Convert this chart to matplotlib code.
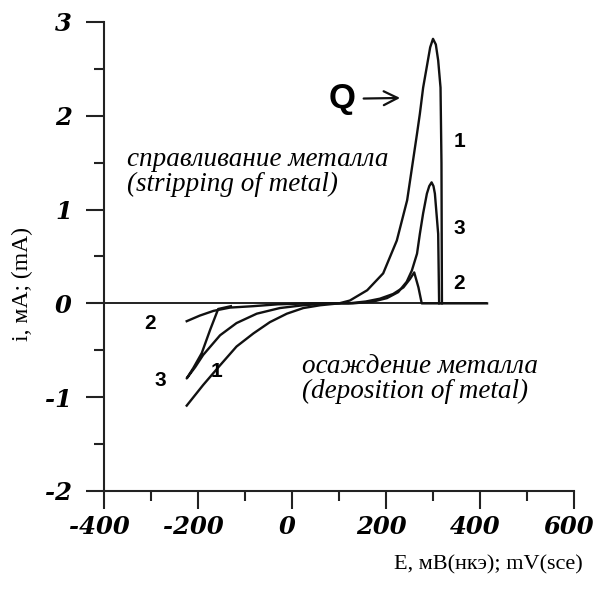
"""
Stripping voltammograms: current vs potential for three runs (1, 2, 3).
"""

import numpy as np
import matplotlib
matplotlib.use("Agg")
import matplotlib.pyplot as plt
from matplotlib.transforms import ScaledTranslation

plt.rcParams["axes.unicode_minus"] = False

# curve 1 (largest peak)
e1 = [-224, -189, -153, -118, -82, -47, -11, 24, 60, 100, 123, 160, 194, 223,
      245, 266, 272, 279, 286, 294, 300, 306, 311, 316, 318, 319]
i1 = [-1.09, -0.87, -0.66, -0.46, -0.32, -0.20, -0.11, -0.05, -0.02, 0.0, 0.03,
      0.14, 0.32, 0.67, 1.10, 1.81, 2.02, 2.30, 2.50, 2.73, 2.82, 2.76, 2.59,
      2.30, 1.50, 0.0]

# curve 3 (reverse branch first, then forward sweep)
e3 = [-130, -157, -174, -192, -210, -224, -206, -189, -153, -118, -75, -26, 24,
      80, 130, 173, 202, 226, 244, 255, 266, 272, 279, 287, 292, 297, 301, 304,
      311, 313]
i3 = [-0.03, -0.06, -0.28, -0.53, -0.69, -0.80, -0.68, -0.55, -0.34, -0.21,
      -0.11, -0.05, -0.02, 0.0, 0.0, 0.02, 0.056, 0.12, 0.23, 0.35, 0.53, 0.74,
      0.96, 1.17, 1.25, 1.29, 1.25, 1.17, 0.74, 0.0]

# curve 2 (smallest)
e2 = [-224, -196, -167, -132, -83, -30, 40, 120, 157, 187, 215, 237, 251, 260,
      269, 276, 415]
i2 = [-0.19, -0.13, -0.08, -0.045, -0.03, -0.01, 0.0, 0.0, 0.02, 0.05, 0.10,
      0.17, 0.26, 0.33, 0.17, 0.0, 0.0]

zero_line_end = 415

x_min, x_max = -400, 600
y_min, y_max = -2, 3

fig = plt.figure(figsize=(6, 5.97), dpi=100)
ax = fig.add_axes([0.1733, 0.1776, 0.7834, 0.7856])

ax.hlines(0, x_min, zero_line_end, color="#222222", lw=1.4)
for e, i in [(e1, i1), (e3, i3), (e2, i2)]:
    ax.plot(e, i, color="#111111", lw=1.7, solid_joinstyle="round")

ax.set_xlim(x_min, x_max)
ax.set_ylim(y_min, y_max)
ax.spines["top"].set_visible(False)
ax.spines["right"].set_visible(False)
for s in ("left", "bottom"):
    ax.spines[s].set_linewidth(1.5)
    ax.spines[s].set_color("#222222")

ax.set_xticks(np.arange(-400, 601, 200))
ax.set_xticks(np.arange(-300, 600, 200), minor=True)
ax.set_yticks(np.arange(-2, 4, 1))
ax.set_yticks(np.arange(-1.5, 3, 1), minor=True)
ax.tick_params(which="major", length=13, width=1.5, color="#222222", pad=4)
ax.tick_params(axis="y", which="major", pad=10)
ax.tick_params(which="minor", length=7, width=1.5, color="#222222")
tick_font = dict(family="DejaVu Serif", weight="bold", style="italic", size=17.5)
shift = ScaledTranslation(-5 / 100, 0, fig.dpi_scale_trans)
for lab in ax.get_xticklabels():
    lab.set(**tick_font)
    lab.set_transform(lab.get_transform() + shift)
for lab in ax.get_yticklabels():
    lab.set(**tick_font)

fig.text(583 / 600, 1 - 565 / 597, "E, мВ(нкэ); mV(sce)", ha="right", va="center",
         family="Liberation Serif", size=16)
fig.text(22 / 600, 1 - 284 / 597, "i, мА; (mA)", ha="center", va="center",
         rotation=90, family="Liberation Serif", size=17)

note_font = dict(family="Liberation Serif", style="italic", size=19.5, linespacing=1.0)
ax.text(-351, 1.40, "справливание металла\n(stripping of metal)", ha="left",
        va="center", **note_font)
ax.text(21, -0.81, "осаждение металла\n(deposition of metal)", ha="left",
        va="center", **note_font)

lab_font = dict(family="Liberation Sans", weight="bold", size=15, ha="center",
                va="center")
for txt, x, y in [("1", 357, 1.73), ("3", 357, 0.80), ("2", 355, 0.21),
                  ("2", -302, -0.21), ("3", -281, -0.82), ("1", -160, -0.73)]:
    ax.text(x, y, txt, **lab_font)

ax.annotate("Q", xy=(230, 2.19), xytext=(106, 2.18), ha="center", va="center",
            family="Liberation Sans", weight="bold", size=25,
            arrowprops=dict(arrowstyle="->", color="#111111", lw=1.6,
                            shrinkA=4, shrinkB=0))

fig.savefig("out.png", dpi=100)
